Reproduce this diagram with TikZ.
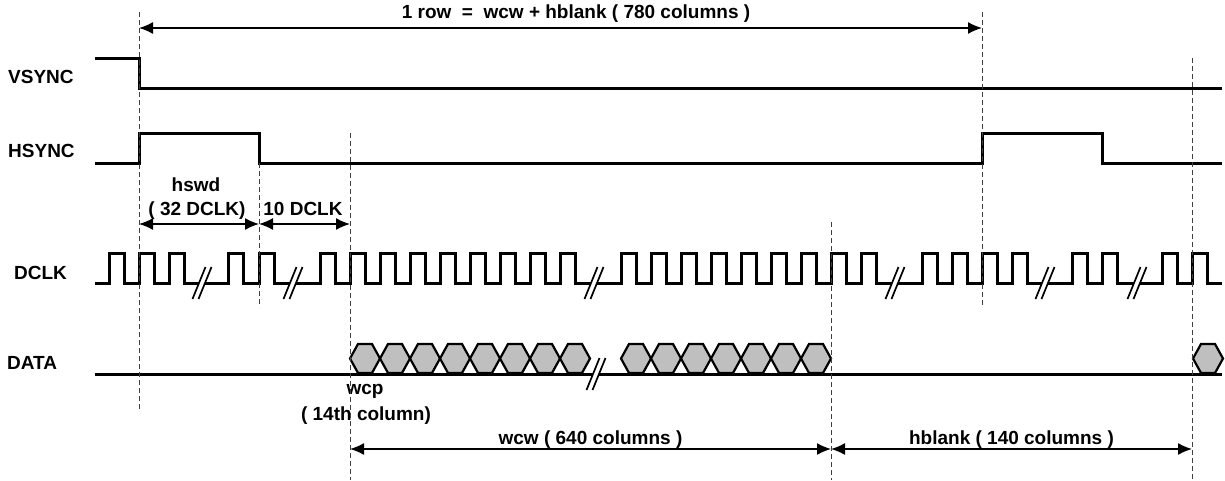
\documentclass[tikz,border=0pt]{standalone}
\usepackage{fontspec}
\setmainfont{Liberation Sans}
\usetikzlibrary{arrows.meta}
\usetikzlibrary{positioning}

\tikzset {
  % signal traces
  trace/.style = {
    draw = black,
    line width = 3pt
  },
  % dashed guide down from an edge
  guide/.style = {
    draw = black!75,
    line width = 1pt,
    dash pattern = on 5pt off 3pt
  },
  % two-headed dimension arrow
  span/.style = {
    draw = black,
    line width = 1.5pt,
    {Latex[length=14pt,width=12pt]}-{Latex[length=14pt,width=12pt]}
  },
  % one data word on the bus
  word/.style = {
    draw = black,
    line width = 2.2pt,
    fill = black!25
  },
  % break sign on a long trace
  gap/.style = {
    draw = black,
    line width = 1.7pt
  },
  lbl/.style = {
    font = \bfseries\fontsize{19}{22}\selectfont,
    inner sep = 0
  }
}

% break sign centred at (#1,#2)
\newcommand{\brk}[2]{
  \draw[gap] (#1-9.5,#2+16) -- (#1+3.5,#2-16);
  \draw[gap] (#1-3.5,#2+16) -- (#1+9.5,#2-16);
}
% clock run from #1 to #2, rising at each of #3
\newcommand{\clkrun}[3]{
  \draw[trace] (#1,283) foreach \r in {#3} {
    -- (\r,283) -- (\r,253) -- (\r+15,253) -- (\r+15,283)
  } -- (#2,283);
}
% data word starting at #1
\newcommand{\dword}[1]{
  \draw[word] (#1,358.5) -- (#1+8,344) -- (#1+22,344) -- (#1+30,358.5)
    -- (#1+22,373) -- (#1+8,373) -- cycle;
}

\begin{document}
\begin{tikzpicture}[x=1pt, y=-1pt]
  \useasboundingbox (0,0) rectangle (1225,480);

  % signal names
  \node[lbl, anchor=base west] (vsync) at (8,83) {VSYNC};
  \node[lbl, anchor=base west] (hsync) at (8,157) {HSYNC};
  \node[lbl, anchor=base west] (dclk) at (14,279) {DCLK};
  \node[lbl, anchor=base west] (data) at (7,369) {DATA};

  % sync traces
  \draw[trace] (95,58) -- (139,58) -- (139,88) -- (1222,88);
  \draw[trace] (95,163) -- (139,163) -- (139,133) -- (259,133) -- (259,163)
    -- (982,163) -- (982,133) -- (1102,133) -- (1102,163) -- (1222,163);

  % clock
  \clkrun{95}{199}{109,139,169}
  \clkrun{205}{290}{228,259}
  \clkrun{296}{591}{320,350,...,560}
  \clkrun{597}{892}{621,651,...,861}
  \clkrun{898}{1042}{922,952,982,1012}
  \clkrun{1048}{1134}{1072,1102}
  \clkrun{1140}{1222}{1162,1192}
  \brk{202}{283}
  \brk{293}{283}
  \brk{594}{283}
  \brk{895}{283}
  \brk{1045}{283}
  \brk{1137}{283}

  % data bus
  \draw[trace] (95,374) -- (593,374);
  \draw[trace] (599,374) -- (1222,374);
  \foreach \x in {350,380,...,560} {\dword{\x}}
  \foreach \x in {621,651,...,801} {\dword{\x}}
  \dword{1193}
  \brk{596}{374}

  % dimension marks
  \coordinate (row-a) at (139,28);
  \coordinate (row-b) at (982,28);
  \coordinate (hs-a) at (139,224);
  \coordinate (hs-b) at (259,224);
  \coordinate (bp-b) at (350,224);
  \coordinate (wc-a) at (350,449);
  \coordinate (wc-b) at (831,449);
  \coordinate (hb-b) at (1192,449);

  \draw[span] (row-a) -- (row-b);
  \node[lbl, anchor=base] (row-txt) at (576,18)
    {1 row\ \ =\ \ wcw + hblank ( 780 columns )};
  \draw[span] (hs-a) -- (hs-b);
  \draw[span] (hs-b) -- (bp-b);
  \node[lbl, anchor=base] (hswd) at (196,191) {hswd};
  \node[lbl, anchor=base] (hswd-val) at (197,215) {( 32 DCLK)};
  \node[lbl, anchor=base] (bp-txt) at (303,215) {10 DCLK};
  \node[lbl, anchor=base] (wcp) at (365,394) {wcp};
  \node[lbl, anchor=base] (wcp-col) at (366,420) {( 14th column)};
  \draw[span] (wc-a) -- (wc-b)
    node[lbl, midway, anchor=base, yshift=5pt] (wc-txt) {wcw ( 640 columns )};
  \draw[span] (wc-b) -- (hb-b)
    node[lbl, midway, anchor=base, yshift=5pt] (hb-txt) {hblank ( 140 columns )};

  % guides
  \draw[guide] (139,12) -- (139,412);
  \draw[guide] (259,163) -- (259,307);
  \draw[guide] (350,133) -- (350,480);
  \draw[guide] (831,222) -- (831,480);
  \draw[guide] (982,12) -- (982,307);
  \draw[guide] (1192,58) -- (1192,480);
\end{tikzpicture}
\end{document}
